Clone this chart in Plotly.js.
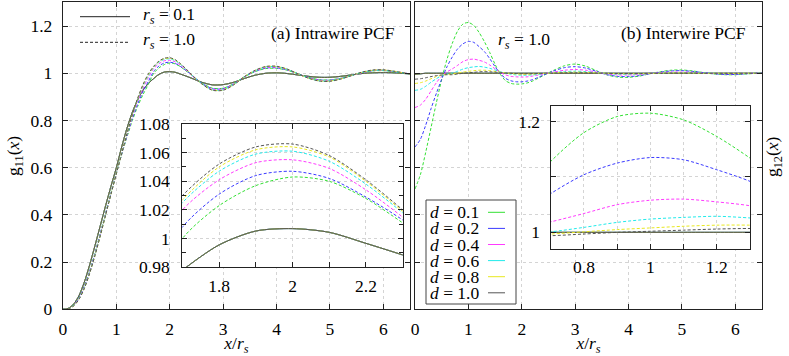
<!DOCTYPE html>
<html>
<head>
<meta charset="utf-8">
<script src="https://cdn.plot.ly/plotly-3.0.1.min.js"></script>
<style>
  html, body { margin: 0; padding: 0; background: #fff; }
  #chart { width: 789px; height: 356px; }
</style>
</head>
<body>
<div id="chart"></div>
<script>
// x grid of the curves (x / r_s)
var xs = [0, 0.1, 0.2, 0.3, 0.4, 0.5, 0.6, 0.7, 0.8, 0.9, 1.0, 1.1, 1.2, 1.3, 1.4, 1.5, 1.6, 1.7, 1.8, 1.9, 2.0, 2.1, 2.2, 2.3, 2.4,
          2.6, 2.8, 3.0, 3.2, 3.4, 3.6, 3.8, 4.0, 4.2, 4.4, 4.6, 4.8, 5.0, 5.2, 5.4, 5.6, 5.8, 6.0, 6.2, 6.4, 6.5];

var dNames = ['0.1', '0.2', '0.4', '0.6', '0.8', '1.0'];
var dColors = ['#33e033', '#3a3aff', '#ff3aff', '#22eaea', '#e8e820', '#555555'];
var rsNames = ['0.1', '1.0'];

// intrawire g11, r_s = 0.1 (all d on top of each other)
var g11_rs01 = [0, 0.004, 0.022, 0.058, 0.115, 0.188, 0.27, 0.355, 0.44, 0.522, 0.60, 0.688, 0.768, 0.835, 0.888, 0.929, 0.957, 0.978, 0.9956, 1.0053, 1.0070, 1.0044, 0.9967, 0.9886, 0.980,
                0.962, 0.951, 0.952, 0.962, 0.978, 0.992, 1.000, 1.002, 0.999, 0.993, 0.987, 0.983, 0.983, 0.987, 0.993, 0.999, 1.002, 1.003, 1.002, 0.999, 0.998];

// intrawire g11, r_s = 1.0, one per d
var g11_rs10_d01 = [0, 0.003, 0.018, 0.050, 0.098, 0.163, 0.239, 0.323, 0.409, 0.494, 0.577, 0.656, 0.731, 0.800, 0.860, 0.910, 0.953, 1.000, 1.023, 1.037, 1.043, 1.040, 1.028, 1.011, 0.993,
                    0.959, 0.937, 0.937, 0.956, 0.985, 1.007, 1.020, 1.021, 1.013, 0.998, 0.983, 0.973, 0.972, 0.979, 0.991, 1.003, 1.010, 1.011, 1.006, 1.000, 0.998];
var g11_rs10_d02 = [0, 0.002, 0.017, 0.048, 0.096, 0.160, 0.236, 0.320, 0.406, 0.492, 0.576, 0.657, 0.735, 0.808, 0.870, 0.922, 0.966, 1.008, 1.031, 1.044, 1.047, 1.042, 1.029, 1.013, 0.994,
                    0.958, 0.935, 0.935, 0.955, 0.985, 1.008, 1.022, 1.023, 1.014, 0.998, 0.982, 0.972, 0.971, 0.978, 0.990, 1.003, 1.011, 1.012, 1.007, 1.001, 0.998];
var g11_rs10_d04 = [0, 0.002, 0.016, 0.046, 0.093, 0.157, 0.233, 0.317, 0.404, 0.491, 0.576, 0.659, 0.740, 0.816, 0.882, 0.937, 0.982, 1.020, 1.041, 1.053, 1.055, 1.049, 1.034, 1.015, 0.994,
                    0.956, 0.932, 0.932, 0.954, 0.986, 1.010, 1.025, 1.026, 1.016, 0.998, 0.981, 0.970, 0.969, 0.977, 0.990, 1.003, 1.012, 1.013, 1.008, 1.001, 0.997];
var g11_rs10_d06 = [0, 0.002, 0.015, 0.044, 0.090, 0.154, 0.230, 0.314, 0.402, 0.490, 0.576, 0.660, 0.743, 0.821, 0.889, 0.946, 0.990, 1.025, 1.047, 1.059, 1.061, 1.054, 1.038, 1.018, 0.996,
                    0.956, 0.930, 0.930, 0.953, 0.986, 1.011, 1.027, 1.028, 1.017, 0.998, 0.980, 0.968, 0.968, 0.976, 0.990, 1.004, 1.012, 1.013, 1.008, 1.001, 0.997];
var g11_rs10_d08 = [0, 0.002, 0.014, 0.043, 0.089, 0.153, 0.229, 0.313, 0.401, 0.489, 0.575, 0.660, 0.744, 0.823, 0.892, 0.950, 0.994, 1.027, 1.050, 1.062, 1.064, 1.057, 1.040, 1.019, 0.996,
                    0.955, 0.929, 0.929, 0.952, 0.986, 1.012, 1.028, 1.029, 1.017, 0.998, 0.979, 0.968, 0.967, 0.976, 0.990, 1.004, 1.013, 1.014, 1.009, 1.001, 0.997];
var g11_rs10_d10 = [0, 0.002, 0.014, 0.042, 0.088, 0.152, 0.228, 0.312, 0.400, 0.488, 0.574, 0.660, 0.745, 0.825, 0.895, 0.953, 0.998, 1.030, 1.052, 1.064, 1.066, 1.058, 1.041, 1.020, 0.997,
                    0.955, 0.928, 0.928, 0.951, 0.986, 1.013, 1.029, 1.030, 1.018, 0.998, 0.979, 0.967, 0.966, 0.975, 0.990, 1.005, 1.014, 1.015, 1.009, 1.001, 0.997];

// interwire g12, r_s = 0.1 (flat at 1 for every d)
var g12_rs01 = [0.996, 0.998, 1, 1, 1, 1, 1, 1, 1, 1, 1, 1, 1, 1, 1, 1, 1, 1, 1, 1, 1, 1, 1, 1, 1,
                1, 1, 1, 1, 1, 1, 1, 1, 1, 1, 1, 1, 1, 1, 1, 1, 1, 1, 1, 1, 1];

// interwire g12, r_s = 1.0, one per d
var g12_rs10_d01 = [0.51, 0.57, 0.665, 0.77, 0.875, 0.975, 1.06, 1.128, 1.18, 1.209, 1.215, 1.203, 1.173, 1.134, 1.088, 1.038, 0.995, 0.968, 0.957, 0.954, 0.955, 0.959, 0.967, 0.978, 0.990,
                    1.013, 1.032, 1.039, 1.030, 1.011, 0.993, 0.984, 0.983, 0.988, 0.998, 1.007, 1.013, 1.014, 1.010, 1.003, 0.997, 0.994, 0.994, 0.997, 1.000, 1.001];
var g12_rs10_d02 = [0.688, 0.72, 0.78, 0.85, 0.915, 0.975, 1.028, 1.070, 1.104, 1.125, 1.135, 1.131, 1.113, 1.092, 1.062, 1.028, 0.998, 0.978, 0.968, 0.964, 0.964, 0.967, 0.973, 0.982, 0.992,
                    1.010, 1.024, 1.028, 1.022, 1.008, 0.994, 0.987, 0.986, 0.990, 0.998, 1.005, 1.010, 1.011, 1.008, 1.003, 0.998, 0.995, 0.995, 0.998, 1.000, 1.001];
var g12_rs10_d04 = [0.855, 0.865, 0.89, 0.925, 0.96, 0.988, 1.006, 1.019, 1.034, 1.050, 1.058, 1.060, 1.055, 1.048, 1.035, 1.019, 1.004, 0.993, 0.987, 0.985, 0.984, 0.985, 0.988, 0.992, 0.997,
                    1.005, 1.013, 1.016, 1.013, 1.005, 0.997, 0.993, 0.993, 0.995, 0.999, 1.003, 1.005, 1.005, 1.004, 1.001, 0.999, 0.998, 0.998, 0.999, 1.000, 1.000];
var g12_rs10_d06 = [0.928, 0.932, 0.945, 0.962, 0.977, 0.99, 0.997, 1.001, 1.009, 1.018, 1.024, 1.027, 1.029, 1.026, 1.021, 1.014, 1.007, 1.001, 0.996, 0.993, 0.992, 0.992, 0.993, 0.995, 0.998,
                    1.003, 1.007, 1.009, 1.007, 1.003, 0.999, 0.996, 0.996, 0.997, 0.999, 1.001, 1.003, 1.003, 1.002, 1.001, 1.000, 0.999, 0.999, 0.999, 1.000, 1.000];
var g12_rs10_d08 = [0.957, 0.96, 0.967, 0.977, 0.986, 0.992, 0.995, 0.997, 1.001, 1.005, 1.008, 1.011, 1.013, 1.013, 1.011, 1.008, 1.005, 1.002, 0.999, 0.997, 0.996, 0.996, 0.997, 0.998, 0.999,
                    1.002, 1.004, 1.005, 1.004, 1.002, 1.000, 0.998, 0.998, 0.998, 0.999, 1.001, 1.002, 1.002, 1.001, 1.000, 1.000, 1.000, 0.999, 1.000, 1.000, 1.000];
var g12_rs10_d10 = [0.975, 0.977, 0.981, 0.986, 0.990, 0.993, 0.994, 0.994, 0.997, 1.000, 1.002, 1.004, 1.006, 1.007, 1.006, 1.005, 1.003, 1.001, 1.000, 0.999, 0.998, 0.998, 0.998, 0.999, 1.000,
                    1.001, 1.002, 1.002, 1.002, 1.001, 1.000, 0.999, 0.999, 0.999, 1.000, 1.000, 1.001, 1.001, 1.001, 1.000, 1.000, 1.000, 1.000, 1.000, 1.000, 1.000];

var g11_dashed = [g11_rs10_d01, g11_rs10_d02, g11_rs10_d04, g11_rs10_d06, g11_rs10_d08, g11_rs10_d10];
var g12_dashed = [g12_rs10_d01, g12_rs10_d02, g12_rs10_d04, g12_rs10_d06, g12_rs10_d08, g12_rs10_d10];

var serif = 'Liberation Serif';
var fs = 17.5;
var dashStyle = '3px,2px';

var data = [];

// panel (a) and its inset, panel (b) and its inset
var panels = [
    { xa: 'x', ya: 'y', solid: g11_rs01, dashed: g11_dashed },
    { xa: 'x3', ya: 'y3', solid: g11_rs01, dashed: g11_dashed },
    { xa: 'x2', ya: 'y2', solid: g12_rs01, dashed: g12_dashed },
    { xa: 'x4', ya: 'y4', solid: g12_rs01, dashed: g12_dashed }
];

panels.forEach(function (p) {
    for (var i = 0; i < dNames.length; i++) {
        data.push({
            x: xs, y: p.solid, xaxis: p.xa, yaxis: p.ya, mode: 'lines',
            line: { color: dColors[i], width: 1, shape: 'spline', smoothing: 0.8 },
            name: 'r_s = 0.1, d = ' + dNames[i], showlegend: false
        });
    }
    for (var j = 0; j < dNames.length; j++) {
        data.push({
            x: xs, y: p.dashed[j], xaxis: p.xa, yaxis: p.ya, mode: 'lines',
            line: { color: dColors[j], width: 1, dash: dashStyle, shape: 'spline', smoothing: 0.8 },
            name: 'r_s = 1.0, d = ' + dNames[j], showlegend: false
        });
    }
});

function frame(opts) {
    var ax = {
        showline: true, linecolor: '#222', linewidth: 1.2, mirror: 'ticks',
        ticks: 'inside', ticklen: 5, tickcolor: '#222', tickwidth: 1,
        showgrid: true, gridcolor: '#d4d4d4', griddash: 'dot', gridwidth: 1,
        zeroline: false, automargin: false,
        tickfont: { family: serif, size: fs, color: '#000' }
    };
    for (var k in opts) ax[k] = opts[k];
    return ax;
}

var xTitle = { text: '<i>x</i>/<i>r</i><sub><i>s</i></sub>', font: { family: serif, size: fs, color: '#000' }, standoff: 4 };
var minorGrid = { dtick: 0.1, ticks: 'inside', ticklen: 5, showgrid: true, gridcolor: '#d4d4d4', griddash: 'dot' };

var shapes = [];
var annotations = [
    { text: '(a) Intrawire PCF', xref: 'paper', yref: 'paper', x: 0.5032, y: 0.9065,
      xanchor: 'right', yanchor: 'middle', showarrow: false },
    { text: '(b) Interwire PCF', xref: 'paper', yref: 'paper', x: 0.9484, y: 0.9065,
      xanchor: 'right', yanchor: 'middle', showarrow: false },
    { text: '<i>r</i><sub><i>s</i></sub> = 1.0', xref: 'paper', yref: 'paper', x: 0.6283, y: 0.8876,
      xanchor: 'left', yanchor: 'middle', showarrow: false },
    { text: 'g<sub>12</sub>(<i>x</i>)', xref: 'paper', yref: 'paper', x: 773 / 789, y: 1 - 157 / 356,
      xanchor: 'center', yanchor: 'middle', textangle: -90, showarrow: false }
];

// key for r_s (line style left, text right)
for (var r = 0; r < rsNames.length; r++) {
    var yr = 1 - (15 + 25.6 * r) / 356;
    var yl = 1 - (16.7 + 25.6 * r) / 356;
    annotations.push({ text: '<i>r</i><sub><i>s</i></sub> = ' + rsNames[r], xref: 'paper', yref: 'paper',
                       x: 141 / 789, y: yr, xanchor: 'left', yanchor: 'middle', showarrow: false });
    shapes.push({ type: 'line', xref: 'paper', yref: 'paper', x0: 80 / 789, x1: 130 / 789, y0: yl, y1: yl,
                  line: { color: '#222', width: 1, dash: r === 0 ? 'solid' : dashStyle } });
}

// key for d (text left, line right)
var legStep = 16.1, legFirst = 212.3;
shapes.push({ type: 'rect', xref: 'paper', yref: 'paper', x0: 426 / 789, x1: 516 / 789,
              y0: 1 - 304 / 356, y1: 1 - 200 / 356,
              line: { color: '#444', width: 1 }, fillcolor: '#fff' });
for (var i = 0; i < dNames.length; i++) {
    var yc = 1 - (legFirst + legStep * i) / 356;
    annotations.push({ text: '<i>d</i> = ' + dNames[i], xref: 'paper', yref: 'paper', height: 16,
                       x: 428 / 789, y: yc, xanchor: 'left', yanchor: 'middle', showarrow: false });
    shapes.push({ type: 'line', xref: 'paper', yref: 'paper', x0: 488 / 789, x1: 505 / 789, y0: yc, y1: yc,
                  line: { color: dColors[i], width: 1 } });
}

var layout = {
    width: 789, height: 356,
    margin: { l: 0, r: 0, t: 0, b: 0 },
    paper_bgcolor: '#fff', plot_bgcolor: '#fff',
    font: { family: serif, size: fs, color: '#000' },
    hovermode: false,
    showlegend: false,
    xaxis: frame({ domain: [0.0798, 0.5196], range: [0, 6.5], dtick: 1, tick0: 0, anchor: 'y',
                   ticklabelstandoff: 4, title: xTitle }),
    yaxis: frame({ domain: [0.1312, 0.993], range: [0, 1.3], dtick: 0.2, tick0: 0, anchor: 'x',
                   ticklabelstandoff: 6,
                   title: { text: 'g<sub>11</sub>(<i>x</i>)', font: { family: serif, size: fs, color: '#000' }, standoff: 6 } }),
    xaxis2: frame({ domain: [0.526, 0.9658], range: [0, 6.5], dtick: 1, tick0: 0, anchor: 'y2',
                    ticklabelstandoff: 4, title: xTitle }),
    yaxis2: frame({ domain: [0.1312, 0.993], range: [0, 1.3], dtick: 0.2, tick0: 0, anchor: 'x2',
                    showticklabels: false }),
    xaxis3: frame({ domain: [0.2311, 0.5104], range: [1.7, 2.3], dtick: 0.2, tick0: 1.8, anchor: 'y3',
                    ticklabelstandoff: 3, minor: minorGrid }),
    yaxis3: frame({ domain: [0.2492, 0.6517], range: [0.98, 1.08], dtick: 0.02, tick0: 0.98, anchor: 'x3',
                    ticklabelstandoff: 8,
                    minor: { dtick: 0.01, ticks: 'inside', ticklen: 4, showgrid: false } }),
    xaxis4: frame({ domain: [0.698, 0.9506], range: [0.7, 1.3], dtick: 0.2, tick0: 0.8, anchor: 'y4',
                    ticklabelstandoff: 2, minor: minorGrid }),
    yaxis4: frame({ domain: [0.3006, 0.7022], range: [0.97, 1.228], dtick: 0.2, tick0: 1.0, anchor: 'x4',
                    ticklabelstandoff: 6, minor: minorGrid }),
    shapes: shapes,
    annotations: annotations
};

Plotly.newPlot('chart', data, layout, { staticPlot: true, displayModeBar: false });
</script>
</body>
</html>
